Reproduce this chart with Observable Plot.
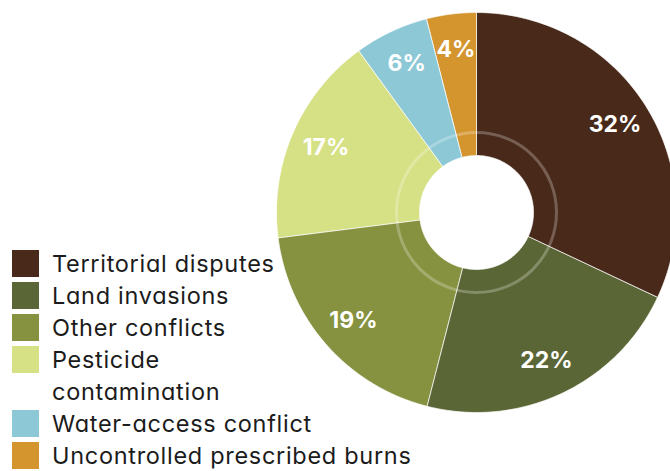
<!DOCTYPE html>
<html>
<head>
<meta charset="utf-8">
<script src="https://cdn.jsdelivr.net/npm/d3@7"></script>
<script src="https://cdn.jsdelivr.net/npm/@observablehq/plot@0.6"></script>
<style>
  html, body { margin: 0; padding: 0; background: #fff; }
  #wrap { position: relative; width: 670px; height: 471px; overflow: hidden; font-family: Inter, "Noto Sans", sans-serif; font-feature-settings: "cv11"; }
  #chart { position: absolute; left: 0; top: 0; }
  #legend { position: absolute; left: 12px; top: 246px; }
  .row { display: flex; align-items: flex-start; }
  .sw { width: 27px; height: 27px; margin-top: 4px; flex: none; }
  .lab { position: relative; top: 2px; margin-left: 13px; font-size: 23.5px; letter-spacing: 0.7px; line-height: 32px; color: #1b1b1b; white-space: pre; font-weight: 400; }
</style>
</head>
<body>
<div id="wrap">
  <div id="chart"></div>
  <div id="legend"></div>
</div>
<script>
const categories = ["Territorial disputes", "Land invasions", "Other conflicts", "Pesticide contamination", "Water-access conflict", "Uncontrolled prescribed burns"];
const shares = [32, 22, 19, 17, 6, 4];
const colors = ["#48291a", "#5b6636", "#86923f", "#d6e084", "#8dc8d7", "#d4952f"];
const legendLabels = ["Territorial disputes", "Land invasions", "Other conflicts", "Pesticide\ncontamination", "Water-access conflict", "Uncontrolled prescribed burns"];
const valueLabels = ["32%", "22%", "19%", "17%", "6%", "4%"];

const R_OUT = 200, R_IN = 57, R_RING = 80, R_LABEL = 164;

const arcs = d3.pie().sort(null).value(d => d)(shares);
const pts = [];
arcs.forEach((a, i) => {
  const n = 90;
  for (let j = 0; j <= n; j++) {
    const t = a.startAngle + (a.endAngle - a.startAngle) * j / n;
    pts.push({k: categories[i], x: R_OUT * Math.sin(t), y: R_OUT * Math.cos(t)});
  }
  for (let j = n; j >= 0; j--) {
    const t = a.startAngle + (a.endAngle - a.startAngle) * j / n;
    pts.push({k: categories[i], x: R_IN * Math.sin(t), y: R_IN * Math.cos(t)});
  }
});
const labs = arcs.map((a, i) => {
  const m = (a.startAngle + a.endAngle) / 2;
  return {t: valueLabels[i], x: R_LABEL * Math.sin(m), y: R_LABEL * Math.cos(m)};
});

const chart = Plot.plot({
  width: 670,
  height: 471,
  margin: 0,
  x: {domain: [-476, 194], range: [0, 670], axis: null},
  y: {domain: [-259, 212], range: [471, 0], axis: null},
  color: {domain: categories, range: colors},
  style: {background: "transparent"},
  marks: [
    Plot.line(pts, {x: "x", y: "y", z: "k", fill: "k", stroke: "#ffffff", strokeWidth: 0.7, curve: "linear-closed"}),
    Plot.dot([{x: 0, y: 0}], {x: "x", y: "y", r: R_RING, fill: "none", stroke: "#ffffff", strokeOpacity: 0.25, strokeWidth: 3}),
    Plot.text(labs, {x: "x", y: "y", text: "t", fill: "#ffffff", fontSize: 23, fontWeight: 700, fontFamily: "Inter, sans-serif"})
  ]
});
document.getElementById("chart").appendChild(chart);

const leg = document.getElementById("legend");
categories.forEach((c, i) => {
  const row = document.createElement("div");
  row.className = "row";
  const sw = document.createElement("div");
  sw.className = "sw";
  sw.style.background = colors[i];
  const lab = document.createElement("div");
  lab.className = "lab";
  lab.textContent = legendLabels[i];
  row.appendChild(sw);
  row.appendChild(lab);
  leg.appendChild(row);
});
</script>
</body>
</html>
